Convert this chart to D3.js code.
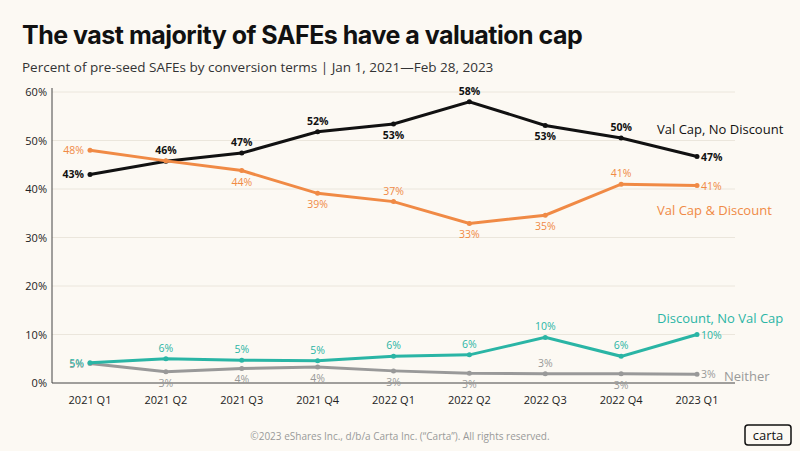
<!DOCTYPE html>
<html><head><meta charset="utf-8">
<script src="https://cdn.jsdelivr.net/npm/d3@7"></script>
<style>body{margin:0;background:#fcf9f3;font-family:"Open Sans",sans-serif}</style>
</head><body><svg id="c" width="800" height="451"></svg>
<script>
const quarters = ["2021 Q1","2021 Q2","2021 Q3","2021 Q4","2022 Q1","2022 Q2","2022 Q3","2022 Q4","2023 Q1"];
const yTicks = [0,10,20,30,40,50,60];
const capNoDisc = [43,45.7,47.4,51.8,53.4,58,53.1,50.5,46.7];
const capNoDiscLbl = ["43%","46%","47%","52%","53%","58%","53%","50%","47%"];
const capDisc = [48,45.8,43.8,39.1,37.4,32.9,34.6,41,40.7];
const capDiscLbl = ["48%","","44%","39%","37%","33%","35%","41%","41%"];
const discNoCap = [4.2,5,4.7,4.6,5.5,5.8,9.4,5.5,10];
const discNoCapLbl = ["5%","6%","5%","5%","6%","6%","10%","6%","10%"];
const neither = [4,2.3,3,3.3,2.5,2,1.9,1.9,1.8];
const neitherLbl = ["5%","3%","4%","4%","3%","3%","3%","3%","3%"];

const svg = d3.select("#c");
const x = d3.scalePoint().domain(quarters).range([90,697]);
const y = d3.scaleLinear().domain([0,60]).range([383,92]);

svg.append("text").attr("x",22).attr("y",44).attr("font-size",25).attr("font-weight",700)
  .attr("fill","#111").attr("font-family","Inter, sans-serif").attr("letter-spacing",-0.5)
  .text("The vast majority of SAFEs have a valuation cap");
svg.append("text").attr("x",22).attr("y",72).attr("font-size",13.5).attr("fill","#333")
  .text("Percent of pre-seed SAFEs by conversion terms |  Jan 1, 2021\u2014Feb 28, 2023");

const g = svg.append("g");
g.selectAll(".grid").data(yTicks.slice(1)).join("line")
  .attr("x1",52).attr("x2",735).attr("y1",d=>y(d)).attr("y2",d=>y(d))
  .attr("stroke","#ebe6dc");
g.selectAll(".yl").data(yTicks).join("text")
  .attr("x",47).attr("y",d=>y(d)+4).attr("text-anchor","end").attr("font-size",11).attr("fill","#222")
  .text(d=>d+"%");
g.append("line").attr("x1",52).attr("x2",52).attr("y1",88).attr("y2",383).attr("stroke","#444");
g.append("line").attr("x1",52).attr("x2",735).attr("y1",383).attr("y2",383).attr("stroke","#444");
g.selectAll(".xl").data(quarters).join("text")
  .attr("x",d=>x(d)).attr("y",404).attr("text-anchor","middle").attr("font-size",11).attr("fill","#222")
  .text(d=>d);

function series(vals, lbls, color, pos, name, nameY, nameW){
  const pts = quarters.map((q,i)=>[x(q),y(vals[i])]);
  g.append("path").attr("d",d3.line()(pts)).attr("fill","none").attr("stroke",color).attr("stroke-width",3);
  g.selectAll(null).data(pts).join("circle").attr("cx",d=>d[0]).attr("cy",d=>d[1]).attr("r",2.5).attr("fill",color);
  pts.forEach((p,i)=>{
    if(!lbls[i]) return;
    const t = g.append("text").attr("font-size",10.5).attr("fill",color).attr("font-weight",nameW).text(lbls[i]);
    if(i===0) t.attr("x",p[0]-6).attr("y",p[1]+4).attr("text-anchor","end");
    else if(i===quarters.length-1) t.attr("x",p[0]+4).attr("y",p[1]+4);
    else t.attr("x",p[0]).attr("y",pos[i]==="a"?p[1]-7:p[1]+15).attr("text-anchor","middle");
  });
  g.append("text").attr("x",name[1]).attr("y",nameY).attr("font-size",13).attr("fill",name[2]||color).text(name[0]);
}
series(capNoDisc,capNoDiscLbl,"#111",["","a","a","a","b","a","b","a",""],["Val Cap, No Discount",657],134,700);
series(capDisc,capDiscLbl,"#f08a45",["","a","b","b","a","b","b","a",""],["Val Cap & Discount",657],215,400);
series(neither,neitherLbl,"#999",["","b","b","b","b","b","a","b",""],["Neither",724],381,400);
series(discNoCap,discNoCapLbl,"#2ab5a5",["","a","a","a","a","a","a","a",""],["Discount, No Val Cap",657],323,400);

svg.append("text").attr("x",400).attr("y",440).attr("text-anchor","middle").attr("font-size",10).attr("fill","#999")
  .text("\u00a92023 eShares Inc., d/b/a Carta Inc. (\u201cCarta\u201d). All rights reserved.");
svg.append("rect").attr("x",745).attr("y",425).attr("width",46).attr("height",20).attr("rx",3)
  .attr("fill","none").attr("stroke","#111").attr("stroke-width",1.5);
svg.append("text").attr("x",768).attr("y",440).attr("text-anchor","middle").attr("font-size",13).attr("fill","#111").text("carta");
</script></body></html>
